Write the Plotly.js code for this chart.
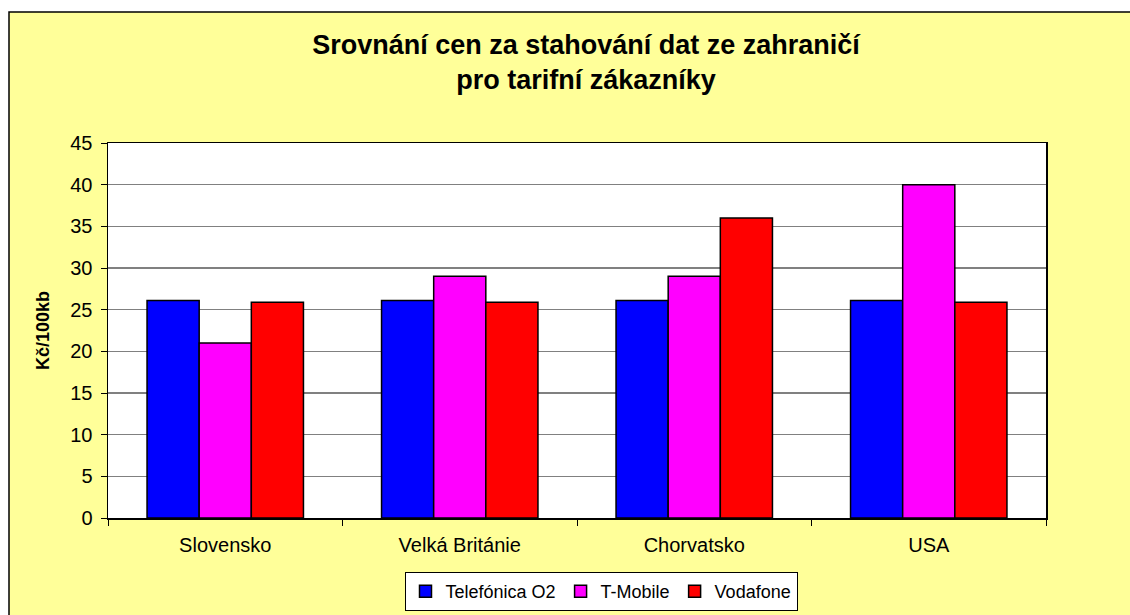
<!DOCTYPE html>
<html>
<head>
<meta charset="utf-8">
<script src="https://cdn.plot.ly/plotly-3.0.1.min.js"></script>
<style>html,body{margin:0;padding:0;background:#FFFFFF;}#chart{width:1130px;height:615px;}</style>
</head>
<body>
<div id="chart"></div>
<script>
const categories = ["Slovensko", "Velká Británie", "Chorvatsko", "USA"];
const seriesNames = ["Telefónica O2", "T-Mobile", "Vodafone"];
const telefonica = [26.1, 26.1, 26.1, 26.1];
const tmobile = [21, 29, 29, 40];
const vodafone = [25.9, 25.9, 36, 25.9];
const yTicks = [0, 5, 10, 15, 20, 25, 30, 35, 40, 45];
const colors = ["#0000FF", "#FF00FF", "#FF0000"];

const font = "Liberation Sans, Arial, sans-serif";
const values = [telefonica, tmobile, vodafone];
const traces = values.map((v, i) => ({
  type: "bar",
  name: seriesNames[i],
  x: categories,
  y: v,
  marker: {color: colors[i], line: {color: "#000000", width: 1.5}},
  hoverinfo: "x+y+name"
}));

const L = 108, R = 1046, T = 143, B = 518, W = 1130, H = 615;
const pw = R - L, ph = B - T;
const px = x => (x - L) / pw;
const py = y => (B - y) / ph;

const layout = {
  width: W, height: H,
  paper_bgcolor: "#FFFF99",
  plot_bgcolor: "#FFFFFF",
  margin: {l: L, r: W - R, t: T, b: H - B, pad: 0},
  barmode: "group",
  bargap: 0.333,
  bargroupgap: 0,
  font: {family: font, size: 18, color: "#000000"},
  title: {
    text: "<b>Srovnání cen za stahování dat ze zahraničí<br>pro tarifní zákazníky</b>",
    font: {family: font, size: 27, color: "#000000"},
    x: px(586), xref: "paper", xanchor: "center",
    y: 1 - 54 / H, yref: "container", yanchor: "top"
  },
  xaxis: {
    type: "category",
    showline: true, linecolor: "#000000", linewidth: 1.5,
    mirror: true,
    ticks: "outside", tickson: "boundaries", ticklen: 6, tickcolor: "#000000",
    ticklabelstandoff: 8,
    showgrid: false,
    tickfont: {family: font, size: 20, color: "#000000"}
  },
  yaxis: {
    range: [0, 45],
    tickvals: yTicks,
    ticktext: yTicks.map(String),
    showline: true, linecolor: "#000000", linewidth: 1.5,
    mirror: true,
    ticks: "outside", ticklen: 6, tickcolor: "#000000",
    ticklabelstandoff: 4,
    showgrid: true, gridcolor: "#808080", gridwidth: 1.2,
    zeroline: false,
    tickfont: {family: font, size: 20, color: "#000000"},
    title: {text: "<b>Kč/100kb</b>", font: {family: font, size: 18, color: "#000000"}, standoff: 16}
  },
  legend: {
    orientation: "h",
    xref: "paper", x: px(601), xanchor: "center",
    yref: "container", y: 1 - 611 / H, yanchor: "bottom",
    bgcolor: "#FFFFFF",
    bordercolor: "#000000", borderwidth: 1,
    font: {family: font, size: 18, color: "#000000"},
    itemwidth: 30,
    traceorder: "normal"
  },
  shapes: [
    {type: "rect", xref: "paper", yref: "paper", x0: px(-20), x1: px(1150), y0: py(12), y1: py(-20),
     line: {width: 0}, fillcolor: "#FFFFFF", layer: "above"},
    {type: "rect", xref: "paper", yref: "paper", x0: px(-20), x1: px(9), y0: py(640), y1: py(-20),
     line: {width: 0}, fillcolor: "#FFFFFF", layer: "above"},
    {type: "rect", xref: "paper", yref: "paper", x0: px(9), x1: px(1145), y0: py(640), y1: py(12),
     line: {color: "#000000", width: 1.5}, fillcolor: "rgba(0,0,0,0)", layer: "above"}
  ]
};

Plotly.newPlot("chart", traces, layout, {displayModeBar: false, staticPlot: true});
</script>
</body>
</html>
